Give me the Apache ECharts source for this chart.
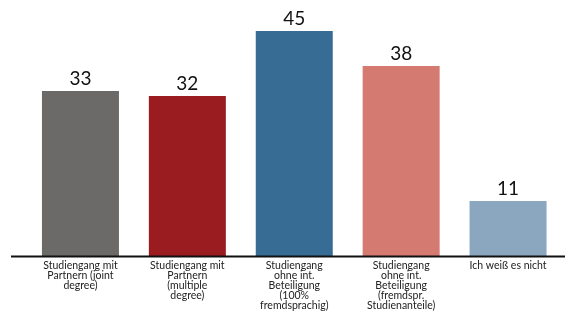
<!DOCTYPE html>
<html><head><meta charset="utf-8">
<script src="https://cdn.jsdelivr.net/npm/echarts@6/dist/echarts.min.js"></script>
<style>html,body{margin:0;padding:0;background:#fff}#c{width:565px;height:313px}</style>
</head><body><div id="c"></div>
<script>
const categories = [
  "Studiengang mit\nPartnern (joint\ndegree)",
  "Studiengang mit\nPartnern\n(multiple\ndegree)",
  "Studiengang\nohne int.\nBeteiligung\n(100%\nfremdsprachig)",
  "Studiengang\nohne int.\nBeteiligung\n(fremdspr.\nStudienanteile)",
  "Ich weiß es nicht"
];
const values = [33, 32, 45, 38, 11];
const colors = ["#6b6a68", "#9a1b20", "#376d95", "#d47a70", "#8aa7bf"];

const chart = echarts.init(document.getElementById('c'), null, {renderer: 'canvas'});
chart.setOption({
  animation: false,
  grid: {left: 27, right: 3.5, top: 6, bottom: 57},
  xAxis: {
    type: 'category', data: categories,
    axisLine: {show: false}, axisTick: {show: false},
    axisLabel: {interval: 0, color: '#222', fontSize: 10.5, lineHeight: 10,
      fontFamily: 'Lato', margin: 5}
  },
  yAxis: {type: 'value', min: 0, max: 50, show: false, splitLine: {show: false}},
  series: [{
    type: 'bar', barWidth: 77,
    data: values.map((v, i) => ({value: v, itemStyle: {color: colors[i]}})),
    label: {show: true, position: 'top', distance: 3, color: '#111', fontSize: 19,
      fontFamily: 'Lato'}
  }],
  graphic: [{
    type: 'line', shape: {x1: 11, y1: 256.5, x2: 565, y2: 256.5},
    style: {stroke: '#111', lineWidth: 2}, z: 10
  }]
});
</script></body></html>
